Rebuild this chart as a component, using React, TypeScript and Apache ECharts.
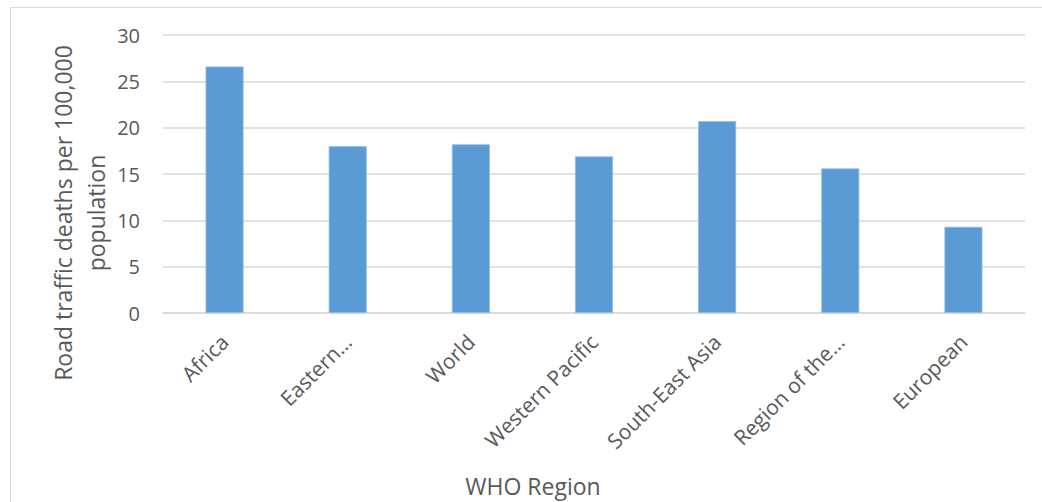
import React, { useEffect, useRef } from "react";
import * as echarts from "echarts";

const categories = [
  "Africa",
  "Eastern…",
  "World",
  "Western Pacific",
  "South-East Asia",
  "Region of the…",
  "European",
];
const deathsPer100k = [26.6, 18.0, 18.2, 16.9, 20.7, 15.6, 9.3];
const yTicks = { min: 0, max: 30, interval: 5 };
const xTitle = "WHO Region";
const yTitle = "Road traffic deaths per 100,000\npopulation";

const FONT = "'Open Sans', 'DejaVu Sans', sans-serif";
const TEXT = "#595959";
const GRID = "#d9d9d9";

export default function App() {
  const ref = useRef<HTMLDivElement>(null);
  useEffect(() => {
    document.body.style.margin = "0";
    const chart = echarts.init(ref.current!, null, { renderer: "svg" });
    chart.setOption({
      animation: false,
      backgroundColor: "#ffffff",
      textStyle: { fontFamily: FONT },
      grid: { left: 163, right: 17, top: 35, bottom: 189, containLabel: false },
      xAxis: {
        type: "category",
        data: categories,
        axisLine: { show: true, lineStyle: { color: GRID, width: 1.5 } },
        axisTick: { show: false },
        axisLabel: {
          rotate: 45,
          interval: 0,
          margin: 25,
          color: TEXT,
          fontSize: 21,
          fontFamily: FONT,
        },
      },
      yAxis: {
        type: "value",
        min: yTicks.min,
        max: yTicks.max,
        interval: yTicks.interval,
        axisLine: { show: false },
        axisTick: { show: false },
        splitLine: { lineStyle: { color: GRID, width: 1.5 } },
        axisLabel: { color: TEXT, fontSize: 20, margin: 23, fontFamily: FONT },
      },
      series: [
        {
          type: "bar",
          data: deathsPer100k,
          barWidth: 38,
          itemStyle: { color: "#5b9bd5", borderColor: "#8fbbe3", borderWidth: 0.8 },
        },
      ],
      graphic: [
        {
          type: "rect",
          shape: { x: 10.5, y: 7.5, width: 1200, height: 700 },
          style: { fill: "none", stroke: GRID, lineWidth: 1 },
          silent: true,
        },
        {
          type: "text",
          x: 533,
          y: 486,
          style: {
            text: xTitle,
            fill: TEXT,
            fontSize: 23,
            fontFamily: FONT,
            align: "center",
            verticalAlign: "middle",
          },
        },
        {
          type: "text",
          x: 79,
          y: 213,
          rotation: Math.PI / 2,
          style: {
            text: yTitle,
            fill: TEXT,
            fontSize: 23,
            lineHeight: 33,
            fontFamily: FONT,
            align: "center",
            verticalAlign: "middle",
          },
        },
      ],
    });
    return () => chart.dispose();
  }, []);
  return <div ref={ref} style={{ width: 1042, height: 502 }} />;
}
